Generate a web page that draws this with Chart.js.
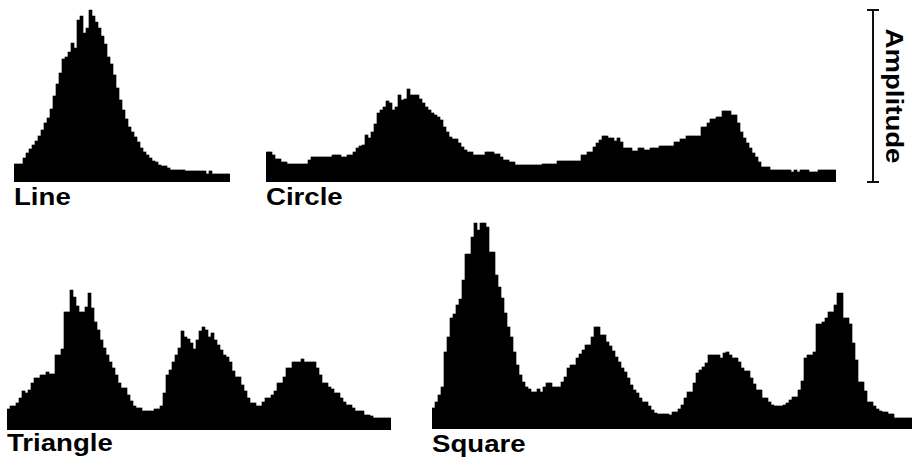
<!DOCTYPE html>
<html>
<head>
    <meta charset="UTF-8">
    <title>Histograms</title>
    <script src="https://cdn.jsdelivr.net/npm/chart.js"></script>
</head>
<style>
    body { margin: 0; background: #fff; width: 912px; height: 464px; overflow: hidden; position: relative; }
    canvas { position: absolute; }
    .label { position: absolute; font: bold 23px 'Liberation Sans', Arial, sans-serif; line-height: 23px;
             color: #000; white-space: nowrap; transform: scaleX(1.2); transform-origin: left top; }
    #amp { left: 893px; top: 96px; transform: translate(-50%, -50%) rotate(90deg) scaleX(1.2); transform-origin: center; }
    .bar { position: absolute; background: #111; }
</style>
<body>
    <canvas id="line" width="216" height="180" style="left:14px; top:2px"></canvas>
    <canvas id="circle" width="570" height="100" style="left:266px; top:82px"></canvas>
    <canvas id="triangle" width="384" height="145" style="left:7px; top:285px"></canvas>
    <canvas id="square" width="480" height="212" style="left:432px; top:217px"></canvas>

    <div class="label" style="left:14px; top:185.5px">Line</div>
    <div class="label" style="left:266px; top:185.5px">Circle</div>
    <div class="label" style="left:7px; top:431.5px">Triangle</div>
    <div class="label" style="left:432px; top:433px">Square</div>

    <!-- amplitude scale bar -->
    <div class="bar" style="left:872px; top:10px; width:2px; height:173px"></div>
    <div class="bar" style="left:867px; top:9px; width:12px; height:2px"></div>
    <div class="bar" style="left:867px; top:181px; width:12px; height:2px"></div>
    <div class="label" id="amp">Amplitude</div>

    <script>
        // histogram counts per bin
        var lineValues = [18,18,18,24,29,33,37,41,46,52,59,64,73,86,98,109,123,125,130,139,134,162,166,149,154,172,
            166,160,154,146,138,125,118,107,94,82,72,63,55,50,45,40,34,30,27,24,21,20,17,16,16,14,
            12,12,12,12,12,11,11,11,11,11,11,11,8,11,8,8,8,8,8,8];

        var circleValues = [30,30,27,23,23,20,20,18,18,18,18,18,18,18,
            22,25,25,25,25,25,25,25,27,27,27,25,25,27,27,
            30,34,36,37,47,44,50,58,69,72,75,81,79,72,75,87,82,83,93,
            87,87,87,83,79,75,72,69,67,65,62,55,50,45,43,43,39,35,32,30,30,27,27,27,27,
            30,30,30,28,28,25,22,22,20,20,17,17,17,17,17,17,17,17,17,18,18,18,
            18,18,21,21,21,21,21,21,21,21,
            27,27,30,30,35,39,42,46,46,44,44,41,44,40,
            34,34,34,31,31,34,34,32,32,34,34,34,36,36,36,36,36,40,40,43,43,46,46,46,46,46,
            55,55,59,63,63,65,65,71,71,71,67,67,59,50,44,39,34,29,25,20,15,15,15,
            12,12,12,12,12,12,12,10,12,10,12,12,12,10,10,10,12,12,12,12,12,12];

        var triangleValues = [21,24,24,27,32,39,37,40,47,52,52,55,55,58,56,56,75,75,81,
            118,118,140,133,124,118,118,123,137,122,108,100,90,82,75,68,62,55,47,42,42,35,29,
            24,22,22,19,19,19,19,21,21,24,37,55,60,68,75,82,99,93,91,87,81,90,
            99,103,100,93,97,90,85,80,75,73,68,59,53,53,45,39,32,27,27,24,24,
            28,32,32,35,39,47,47,53,62,62,68,68,68,71,68,68,68,68,62,55,47,
            47,43,41,37,37,32,28,25,25,22,19,19,19,15,15,14,12,12,12,12,12,12];

        var squareValues = [21,27,34,42,77,92,111,115,124,130,149,175,175,192,206,199,206,206,202,177,177,
            154,142,131,116,102,92,77,64,54,47,42,40,37,37,40,37,42,46,46,42,42,42,
            47,52,61,64,64,71,75,79,84,84,92,102,102,94,94,87,83,78,72,67,61,57,
            51,44,39,36,31,27,27,23,19,16,15,15,15,15,14,17,17,20,24,31,37,37,
            46,56,59,62,66,74,74,74,74,71,76,77,74,71,71,67,61,58,58,51,45,39,
            39,31,31,27,24,23,23,23,24,26,29,32,32,39,48,71,74,74,77,105,105,107,
            111,117,117,124,136,136,111,111,105,86,69,47,47,38,27,27,23,20,18,17,17,15,15,11,11,11,11,11,11];

        function histogram(id, values, yMax) {
            new Chart(document.getElementById(id), {
                type: 'bar',
                data: {
                    labels: values.map((v, i) => i),
                    datasets: [{
                        data: values,
                        backgroundColor: '#000',
                        borderWidth: 0,
                        categoryPercentage: 1,
                        barPercentage: 1
                    }]
                },
                options: {
                    responsive: false,
                    animation: false,
                    events: [],
                    layout: {padding: 0},
                    plugins: {legend: {display: false}, tooltip: {enabled: false}},
                    scales: {
                        x: {display: false},
                        y: {display: false, min: 0, max: yMax}
                    }
                }
            });
        }

        histogram('line', lineValues, 180);
        histogram('circle', circleValues, 100);
        histogram('triangle', triangleValues, 145);
        histogram('square', squareValues, 212);
    </script>
</body>
</html>
